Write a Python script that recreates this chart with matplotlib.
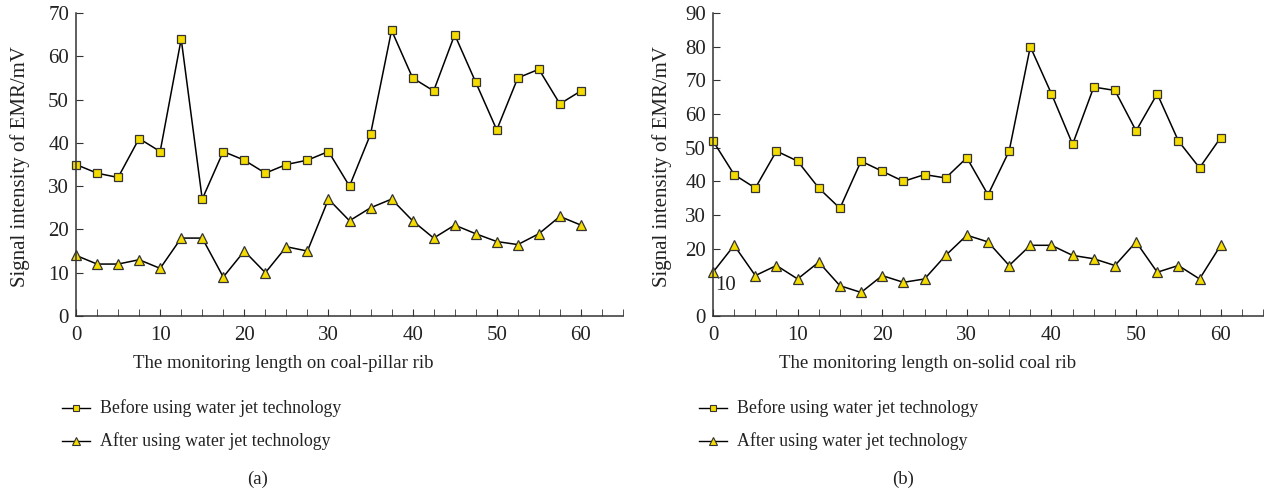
import matplotlib.pyplot as plt
from matplotlib.ticker import MultipleLocator

plt.rcParams['font.family'] = ['Liberation Serif', 'DejaVu Serif']

# monitoring positions (m), shared by both panels
x = [0, 2.5, 5, 7.5, 10, 12.5, 15, 17.5, 20, 22.5, 25, 27.5, 30,
     32.5, 35, 37.5, 40, 42.5, 45, 47.5, 50, 52.5, 55, 57.5, 60]

# (a) coal-pillar rib
before_a = [35, 33, 32, 41, 38, 64, 27, 38, 36, 33, 35, 36, 38,
            30, 42, 66, 55, 52, 65, 54, 43, 55, 57, 49, 52]
after_a = [14, 12, 12, 13, 11, 18, 18, 9, 15, 10, 16, 15, 27,
           22, 25, 27, 22, 18, 21, 19, 17.2, 16.5, 19, 23, 21]

# (b) solid coal rib
before_b = [52, 42, 38, 49, 46, 38, 32, 46, 43, 40, 42, 41, 47,
            36, 49, 80, 66, 51, 68, 67, 55, 66, 52, 44, 53]
after_b = [13, 21, 12, 15, 11, 16, 9, 7, 12, 10, 11, 18, 24,
           22, 15, 21, 21, 18, 17, 15, 22, 13, 15, 11, 21]

xlabels = ["The monitoring length on coal-pillar rib",
           "The monitoring length on-solid coal rib"]
legend_labels = ["Before using water jet technology",
                 "After using water jet technology"]
captions = ["(a)", "(b)"]

W, H = 1268, 494
fig = plt.figure(figsize=(W / 100, H / 100), dpi=100)

fill = '#f5dc00'
edge = '#333333'
txt = '#222222'
fs_tick = 15
fs_lab = 13.5

def fx(px):
    return px / W

def fy(py):
    return 1 - py / H

panels = [
    dict(left=76, right=623, before=before_a, after=after_a, ymax=70,
         yticks=[0, 10, 20, 30, 40, 50, 60, 70], xl=283, cap=258, yl=20),
    dict(left=713, right=1263, before=before_b, after=after_b, ymax=90,
         yticks=[0, 20, 30, 40, 50, 60, 70, 80, 90], xl=928, cap=903, yl=662),
]

for i, p in enumerate(panels):
    ax = fig.add_axes([fx(p['left']), fy(316), fx(p['right'] - p['left']), (316 - 13) / H])
    ax.plot(x, p['before'], color='black', lw=1.1, marker='s', ms=5.5,
            mfc=fill, mec=edge, mew=0.9, clip_on=False)
    ax.plot(x, p['after'], color='black', lw=1.1, marker='^', ms=6.5,
            mfc=fill, mec=edge, mew=0.9, clip_on=False)
    ax.set_xlim(0, 65)
    ax.set_ylim(0, p['ymax'])
    ax.set_xticks([0, 10, 20, 30, 40, 50, 60])
    ax.xaxis.set_minor_locator(MultipleLocator(2.5))
    ax.set_yticks(p['yticks'])
    ax.spines['top'].set_visible(False)
    ax.spines['right'].set_visible(False)
    for s in ['left', 'bottom']:
        ax.spines[s].set_color('#333333')
        ax.spines[s].set_linewidth(1.1)
    ax.tick_params(axis='x', which='major', direction='in', length=5, labelsize=fs_tick, pad=7,
                   color='#333333', labelcolor=txt)
    ax.tick_params(axis='x', which='minor', direction='in', length=5, color='#333333')
    ax.tick_params(axis='y', direction='in', length=5, labelsize=fs_tick, pad=5,
                   color='#333333', labelcolor=txt)
    if i == 1:
        ax.text(0.3, 9.0, "10", fontsize=fs_tick, ha='left', va='center', color=txt)

    fig.text(fx(p['yl']), fy(167), "Signal intensity of EMR/mV", rotation=90,
             ha='center', va='center', fontsize=fs_tick, color=txt)
    fig.text(fx(p['xl']), fy(363), xlabels[i], ha='center', va='center', fontsize=fs_lab, color=txt)

    # legend drawn by hand below the axes
    lx0 = p['left'] - 14
    for j, (lab, mk, ms) in enumerate(zip(legend_labels, ['s', '^'], [4.5, 5.5])):
        yy = fy(408 + 33 * j)
        fig.add_artist(plt.Line2D([fx(lx0), fx(lx0 + 28)], [yy, yy], color='black', lw=1.0,
                                  transform=fig.transFigure))
        fig.add_artist(plt.Line2D([fx(lx0 + 14)], [yy], marker=mk, ms=ms, mfc=fill, mec=edge,
                                  mew=0.8, transform=fig.transFigure))
        fig.text(fx(lx0 + 38), yy, lab, ha='left', va='center', fontsize=12.8, color=txt)

    fig.text(fx(p['cap']), fy(479), captions[i], ha='center', va='center', fontsize=fs_lab, color=txt)

fig.savefig('out.png', dpi=100)
